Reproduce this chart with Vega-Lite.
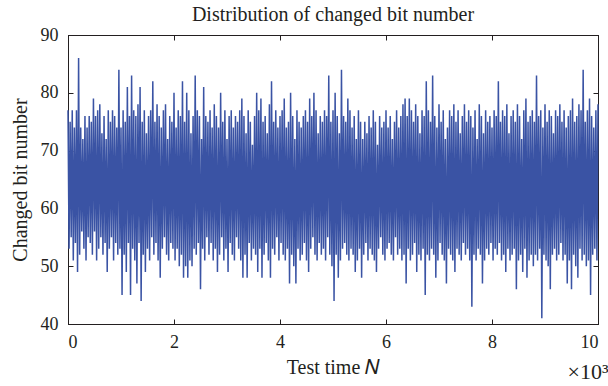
{
"$schema": "https://vega.github.io/schema/vega-lite/v6.json",
"width": 530,
"height": 289,
"autosize": {"type": "none"},
"padding": {"left": 68, "top": 35, "right": 10, "bottom": 62},
"background": "white",
"config": {
  "view": {"stroke": "#231f20", "strokeWidth": 1},
  "font": "Liberation Serif",
  "axis": {"grid": false, "domainColor": "#231f20", "tickColor": "#231f20", "labelColor": "#231f20", "titleColor": "#231f20", "labelFont": "Liberation Serif", "titleFont": "Liberation Serif", "labelFontSize": 18, "titleFontSize": 20, "titleFontWeight": "normal", "tickSize": -5, "tickWidth": 1, "domainWidth": 1}
},
"title": {"text": "Distribution of changed bit number", "font": "Liberation Serif", "fontSize": 20, "fontWeight": "normal", "color": "#231f20", "anchor": "middle", "frame": "group", "baseline": "alphabetic", "offset": 3, "dy": 18},
"data": {"values": [
{"n":0,"v":77},{"n":20,"v":53},{"n":40,"v":75},{"n":60,"v":55},{"n":80,"v":77},{"n":100,"v":51},{"n":120,"v":74},{"n":140,"v":54},{"n":160,"v":77},{"n":180,"v":49},
{"n":200,"v":86},{"n":220,"v":52},{"n":240,"v":74},{"n":260,"v":56},{"n":280,"v":72},{"n":300,"v":53},{"n":320,"v":76},{"n":340,"v":51},{"n":360,"v":74},{"n":380,"v":55},
{"n":400,"v":76},{"n":420,"v":54},{"n":440,"v":75},{"n":460,"v":52},{"n":480,"v":79},{"n":500,"v":56},{"n":520,"v":76},{"n":540,"v":51},{"n":560,"v":77},{"n":580,"v":53},
{"n":600,"v":78},{"n":620,"v":55},{"n":640,"v":73},{"n":660,"v":52},{"n":680,"v":76},{"n":700,"v":54},{"n":720,"v":72},{"n":740,"v":49},{"n":760,"v":77},{"n":780,"v":53},
{"n":800,"v":75},{"n":820,"v":55},{"n":840,"v":77},{"n":860,"v":51},{"n":880,"v":76},{"n":900,"v":54},{"n":920,"v":74},{"n":940,"v":52},{"n":960,"v":84},{"n":980,"v":53},
{"n":1000,"v":74},{"n":1020,"v":45},{"n":1040,"v":77},{"n":1060,"v":52},{"n":1080,"v":75},{"n":1100,"v":49},{"n":1120,"v":81},{"n":1140,"v":54},{"n":1160,"v":76},{"n":1180,"v":45},
{"n":1200,"v":83},{"n":1220,"v":53},{"n":1240,"v":77},{"n":1260,"v":51},{"n":1280,"v":76},{"n":1300,"v":47},{"n":1320,"v":78},{"n":1340,"v":54},{"n":1360,"v":81},{"n":1380,"v":44},
{"n":1400,"v":75},{"n":1420,"v":52},{"n":1440,"v":77},{"n":1460,"v":49},{"n":1480,"v":73},{"n":1500,"v":53},{"n":1520,"v":76},{"n":1540,"v":51},{"n":1560,"v":77},{"n":1580,"v":55},
{"n":1600,"v":82},{"n":1620,"v":52},{"n":1640,"v":75},{"n":1660,"v":54},{"n":1680,"v":78},{"n":1700,"v":51},{"n":1720,"v":76},{"n":1740,"v":48},{"n":1760,"v":74},{"n":1780,"v":53},
{"n":1800,"v":77},{"n":1820,"v":55},{"n":1840,"v":78},{"n":1860,"v":52},{"n":1880,"v":72},{"n":1900,"v":51},{"n":1920,"v":76},{"n":1940,"v":54},{"n":1960,"v":75},{"n":1980,"v":53},
{"n":2000,"v":80},{"n":2020,"v":51},{"n":2040,"v":74},{"n":2060,"v":53},{"n":2080,"v":77},{"n":2100,"v":50},{"n":2120,"v":76},{"n":2140,"v":52},{"n":2160,"v":82},{"n":2180,"v":48},
{"n":2200,"v":75},{"n":2220,"v":50},{"n":2240,"v":80},{"n":2260,"v":48},{"n":2280,"v":77},{"n":2300,"v":51},{"n":2320,"v":73},{"n":2340,"v":50},{"n":2360,"v":76},{"n":2380,"v":53},
{"n":2400,"v":83},{"n":2420,"v":52},{"n":2440,"v":77},{"n":2460,"v":54},{"n":2480,"v":76},{"n":2500,"v":46},{"n":2520,"v":72},{"n":2540,"v":53},{"n":2560,"v":81},{"n":2580,"v":51},
{"n":2600,"v":76},{"n":2620,"v":55},{"n":2640,"v":75},{"n":2660,"v":52},{"n":2680,"v":77},{"n":2700,"v":54},{"n":2720,"v":74},{"n":2740,"v":51},{"n":2760,"v":78},{"n":2780,"v":53},
{"n":2800,"v":76},{"n":2820,"v":49},{"n":2840,"v":74},{"n":2860,"v":52},{"n":2880,"v":80},{"n":2900,"v":55},{"n":2920,"v":75},{"n":2940,"v":51},{"n":2960,"v":77},{"n":2980,"v":53},
{"n":3000,"v":72},{"n":3020,"v":49},{"n":3040,"v":76},{"n":3060,"v":54},{"n":3080,"v":77},{"n":3100,"v":52},{"n":3120,"v":74},{"n":3140,"v":51},{"n":3160,"v":76},{"n":3180,"v":55},
{"n":3200,"v":75},{"n":3220,"v":53},{"n":3240,"v":77},{"n":3260,"v":51},{"n":3280,"v":79},{"n":3300,"v":48},{"n":3320,"v":76},{"n":3340,"v":52},{"n":3360,"v":73},{"n":3380,"v":48},
{"n":3400,"v":77},{"n":3420,"v":54},{"n":3440,"v":75},{"n":3460,"v":51},{"n":3480,"v":71},{"n":3500,"v":53},{"n":3520,"v":76},{"n":3540,"v":52},{"n":3560,"v":80},{"n":3580,"v":49},
{"n":3600,"v":77},{"n":3620,"v":53},{"n":3640,"v":79},{"n":3660,"v":48},{"n":3680,"v":75},{"n":3700,"v":52},{"n":3720,"v":76},{"n":3740,"v":54},{"n":3760,"v":73},{"n":3780,"v":51},
{"n":3800,"v":78},{"n":3820,"v":48},{"n":3840,"v":82},{"n":3860,"v":53},{"n":3880,"v":75},{"n":3900,"v":52},{"n":3920,"v":77},{"n":3940,"v":55},{"n":3960,"v":74},{"n":3980,"v":51},
{"n":4000,"v":76},{"n":4020,"v":54},{"n":4040,"v":77},{"n":4060,"v":52},{"n":4080,"v":79},{"n":4100,"v":51},{"n":4120,"v":74},{"n":4140,"v":53},{"n":4160,"v":75},{"n":4180,"v":47},
{"n":4200,"v":80},{"n":4220,"v":52},{"n":4240,"v":76},{"n":4260,"v":50},{"n":4280,"v":72},{"n":4300,"v":47},{"n":4320,"v":77},{"n":4340,"v":53},{"n":4360,"v":75},{"n":4380,"v":51},
{"n":4400,"v":74},{"n":4420,"v":52},{"n":4440,"v":76},{"n":4460,"v":54},{"n":4480,"v":77},{"n":4500,"v":51},{"n":4520,"v":75},{"n":4540,"v":49},{"n":4560,"v":79},{"n":4580,"v":53},
{"n":4600,"v":76},{"n":4620,"v":55},{"n":4640,"v":80},{"n":4660,"v":52},{"n":4680,"v":77},{"n":4700,"v":51},{"n":4720,"v":73},{"n":4740,"v":54},{"n":4760,"v":76},{"n":4780,"v":52},
{"n":4800,"v":75},{"n":4820,"v":53},{"n":4840,"v":77},{"n":4860,"v":51},{"n":4880,"v":76},{"n":4900,"v":55},{"n":4920,"v":83},{"n":4940,"v":52},{"n":4960,"v":75},{"n":4980,"v":50},
{"n":5000,"v":77},{"n":5020,"v":44},{"n":5040,"v":80},{"n":5060,"v":52},{"n":5080,"v":76},{"n":5100,"v":48},{"n":5120,"v":73},{"n":5140,"v":51},{"n":5160,"v":84},{"n":5180,"v":53},
{"n":5200,"v":76},{"n":5220,"v":54},{"n":5240,"v":75},{"n":5260,"v":52},{"n":5280,"v":79},{"n":5300,"v":51},{"n":5320,"v":77},{"n":5340,"v":53},{"n":5360,"v":74},{"n":5380,"v":52},
{"n":5400,"v":76},{"n":5420,"v":49},{"n":5440,"v":72},{"n":5460,"v":51},{"n":5480,"v":77},{"n":5500,"v":53},{"n":5520,"v":75},{"n":5540,"v":48},{"n":5560,"v":72},{"n":5580,"v":52},
{"n":5600,"v":75},{"n":5620,"v":54},{"n":5640,"v":73},{"n":5660,"v":51},{"n":5680,"v":76},{"n":5700,"v":53},{"n":5720,"v":74},{"n":5740,"v":52},{"n":5760,"v":77},{"n":5780,"v":51},
{"n":5800,"v":75},{"n":5820,"v":49},{"n":5840,"v":71},{"n":5860,"v":53},{"n":5880,"v":76},{"n":5900,"v":55},{"n":5920,"v":74},{"n":5940,"v":52},{"n":5960,"v":75},{"n":5980,"v":51},
{"n":6000,"v":77},{"n":6020,"v":53},{"n":6040,"v":74},{"n":6060,"v":54},{"n":6080,"v":76},{"n":6100,"v":52},{"n":6120,"v":72},{"n":6140,"v":51},{"n":6160,"v":75},{"n":6180,"v":55},
{"n":6200,"v":77},{"n":6220,"v":52},{"n":6240,"v":74},{"n":6260,"v":53},{"n":6280,"v":76},{"n":6300,"v":51},{"n":6320,"v":78},{"n":6340,"v":52},{"n":6360,"v":79},{"n":6380,"v":47},
{"n":6400,"v":76},{"n":6420,"v":53},{"n":6440,"v":79},{"n":6460,"v":51},{"n":6480,"v":77},{"n":6500,"v":52},{"n":6520,"v":75},{"n":6540,"v":54},{"n":6560,"v":78},{"n":6580,"v":49},
{"n":6600,"v":76},{"n":6620,"v":52},{"n":6640,"v":73},{"n":6660,"v":51},{"n":6680,"v":77},{"n":6700,"v":53},{"n":6720,"v":76},{"n":6740,"v":45},{"n":6760,"v":82},{"n":6780,"v":52},
{"n":6800,"v":77},{"n":6820,"v":51},{"n":6840,"v":75},{"n":6860,"v":53},{"n":6880,"v":83},{"n":6900,"v":52},{"n":6920,"v":76},{"n":6940,"v":48},{"n":6960,"v":74},{"n":6980,"v":51},
{"n":7000,"v":78},{"n":7020,"v":54},{"n":7040,"v":75},{"n":7060,"v":52},{"n":7080,"v":77},{"n":7100,"v":51},{"n":7120,"v":72},{"n":7140,"v":47},{"n":7160,"v":74},{"n":7180,"v":53},
{"n":7200,"v":77},{"n":7220,"v":52},{"n":7240,"v":76},{"n":7260,"v":51},{"n":7280,"v":78},{"n":7300,"v":49},{"n":7320,"v":75},{"n":7340,"v":53},{"n":7360,"v":77},{"n":7380,"v":52},
{"n":7400,"v":73},{"n":7420,"v":51},{"n":7440,"v":76},{"n":7460,"v":54},{"n":7480,"v":78},{"n":7500,"v":52},{"n":7520,"v":75},{"n":7540,"v":53},{"n":7560,"v":77},{"n":7580,"v":51},
{"n":7600,"v":76},{"n":7620,"v":43},{"n":7640,"v":74},{"n":7660,"v":52},{"n":7680,"v":77},{"n":7700,"v":51},{"n":7720,"v":72},{"n":7740,"v":53},{"n":7760,"v":78},{"n":7780,"v":52},
{"n":7800,"v":76},{"n":7820,"v":47},{"n":7840,"v":73},{"n":7860,"v":51},{"n":7880,"v":77},{"n":7900,"v":53},{"n":7920,"v":75},{"n":7940,"v":52},{"n":7960,"v":76},{"n":7980,"v":54},
{"n":8000,"v":74},{"n":8020,"v":51},{"n":8040,"v":77},{"n":8060,"v":53},{"n":8080,"v":76},{"n":8100,"v":52},{"n":8120,"v":82},{"n":8140,"v":54},{"n":8160,"v":75},{"n":8180,"v":51},
{"n":8200,"v":77},{"n":8220,"v":52},{"n":8240,"v":76},{"n":8260,"v":49},{"n":8280,"v":78},{"n":8300,"v":53},{"n":8320,"v":73},{"n":8340,"v":51},{"n":8360,"v":76},{"n":8380,"v":52},
{"n":8400,"v":77},{"n":8420,"v":53},{"n":8440,"v":75},{"n":8460,"v":46},{"n":8480,"v":78},{"n":8500,"v":51},{"n":8520,"v":76},{"n":8540,"v":52},{"n":8560,"v":72},{"n":8580,"v":49},
{"n":8600,"v":77},{"n":8620,"v":53},{"n":8640,"v":79},{"n":8660,"v":48},{"n":8680,"v":75},{"n":8700,"v":51},{"n":8720,"v":76},{"n":8740,"v":52},{"n":8760,"v":77},{"n":8780,"v":50},
{"n":8800,"v":75},{"n":8820,"v":52},{"n":8840,"v":83},{"n":8860,"v":51},{"n":8880,"v":76},{"n":8900,"v":53},{"n":8920,"v":77},{"n":8940,"v":41},{"n":8960,"v":74},{"n":8980,"v":52},
{"n":9000,"v":78},{"n":9020,"v":51},{"n":9040,"v":75},{"n":9060,"v":50},{"n":9080,"v":77},{"n":9100,"v":46},{"n":9120,"v":76},{"n":9140,"v":52},{"n":9160,"v":73},{"n":9180,"v":53},
{"n":9200,"v":77},{"n":9220,"v":51},{"n":9240,"v":76},{"n":9260,"v":52},{"n":9280,"v":78},{"n":9300,"v":54},{"n":9320,"v":75},{"n":9340,"v":51},{"n":9360,"v":77},{"n":9380,"v":52},
{"n":9400,"v":74},{"n":9420,"v":47},{"n":9440,"v":76},{"n":9460,"v":51},{"n":9480,"v":77},{"n":9500,"v":46},{"n":9520,"v":79},{"n":9540,"v":52},{"n":9560,"v":75},{"n":9580,"v":50},
{"n":9600,"v":76},{"n":9620,"v":48},{"n":9640,"v":78},{"n":9660,"v":53},{"n":9680,"v":77},{"n":9700,"v":51},{"n":9720,"v":84},{"n":9740,"v":52},{"n":9760,"v":75},{"n":9780,"v":50},
{"n":9800,"v":77},{"n":9820,"v":51},{"n":9840,"v":79},{"n":9860,"v":45},{"n":9880,"v":76},{"n":9900,"v":52},{"n":9920,"v":74},{"n":9940,"v":53},{"n":9960,"v":77},{"n":9980,"v":51},
{"n":10000,"v":78}
]},
"resolve": {"axis": {"x": "independent", "y": "independent"}},
"layer": [
  {
    "mark": {"type": "line", "color": "#3a53a4", "strokeWidth": 1.5},
    "encoding": {
      "x": {"field": "n", "type": "quantitative", "scale": {"domain": [0, 10000], "nice": false},
            "axis": {"orient": "bottom", "values": [0, 2000, 4000, 6000, 8000, 10000], "labelExpr": "datum.value / 1000", "labelFont": "Liberation Serif", "labelPadding": 14, "title": "Test time 𝑁", "titlePadding": 6}},
      "y": {"field": "v", "type": "quantitative", "scale": {"domain": [40, 90], "nice": false, "zero": false},
            "axis": {"orient": "left", "values": [40, 50, 60, 70, 80, 90], "labelFont": "Liberation Serif", "labelPadding": 15, "title": "Changed bit number", "titlePadding": 10}}
    }
  },
  {
    "mark": {"type": "line", "opacity": 0},
    "encoding": {
      "x": {"field": "n", "type": "quantitative", "scale": {"domain": [0, 10000], "nice": false},
            "axis": {"orient": "top", "values": [0, 2000, 4000, 6000, 8000, 10000], "labels": false, "title": null}},
      "y": {"field": "v", "type": "quantitative", "scale": {"domain": [40, 90], "nice": false, "zero": false},
            "axis": {"orient": "right", "values": [40, 50, 60, 70, 80, 90], "labels": false, "title": null}}
    }
  },
  {
    "mark": {"type": "line", "opacity": 0},
    "encoding": {
      "x": {"field": "n", "type": "quantitative", "scale": {"domain": [0, 10000], "nice": false},
            "axis": {"orient": "bottom", "labels": false, "ticks": false, "domain": false, "title": "×10³", "titleX": 540, "titleY": 54, "titleAlign": "right", "titleBaseline": "alphabetic", "titleFontSize": 22}},
      "y": {"field": "v", "type": "quantitative", "scale": {"domain": [40, 90], "nice": false, "zero": false}, "axis": null}
    }
  }
]
}
